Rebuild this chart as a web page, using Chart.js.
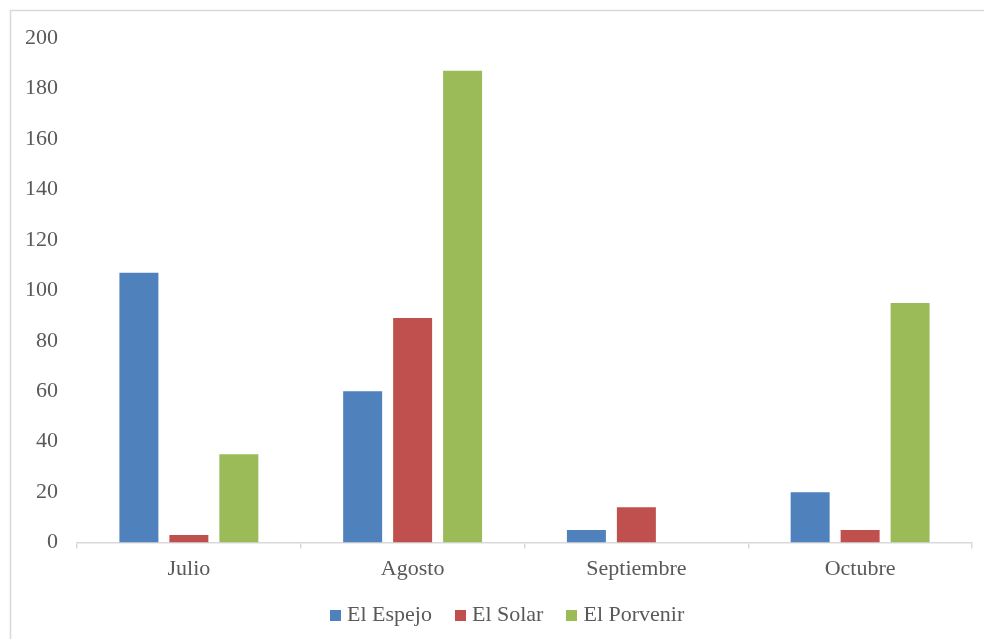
<!DOCTYPE html>
<html>
<head>
<meta charset="utf-8">
<script src="https://cdn.jsdelivr.net/npm/chart.js@4"></script>
<style>
html,body{margin:0;padding:0;background:#fff;overflow:hidden;}
#wrap{position:relative;width:984px;height:639px;}
#legend{position:absolute;left:330px;top:600px;height:28px;display:flex;align-items:center;
  font-family:'Liberation Serif','Times New Roman',serif;font-size:22px;color:#595959;white-space:nowrap;}
#legend .item{display:flex;align-items:center;margin-right:23px;}
#legend .box{width:11px;height:11px;margin-right:6px;margin-top:2px;}
</style>
</head>
<body>
<div id="wrap"><canvas id="c" width="984" height="639"></canvas><div id="legend"></div></div>
<script>
const categories = ["Julio", "Agosto", "Septiembre", "Octubre"];
const seriesNames = ["El Espejo", "El Solar", "El Porvenir"];
const elEspejo = [107, 60, 5, 20];
const elSolar = [3, 89, 14, 5];
const elPorvenir = [35, 187, 0, 95];
const yTicks = [0, 20, 40, 60, 80, 100, 120, 140, 160, 180, 200];

const colors = ["#4F81BD", "#C0504D", "#9BBB59"];
const font = {family: "'Liberation Serif', 'Times New Roman', serif", size: 22};

const borderPlugin = {
  id: 'frame',
  beforeDraw(chart) {
    const ctx = chart.ctx;
    ctx.save();
    ctx.fillStyle = '#fff';
    ctx.fillRect(0, 0, chart.width, chart.height);
    ctx.strokeStyle = '#d9d9d9';
    ctx.lineWidth = 1.5;
    ctx.beginPath();
    ctx.moveTo(10.5, chart.height + 5);
    ctx.lineTo(10.5, 10.5);
    ctx.lineTo(chart.width + 5, 10.5);
    ctx.stroke();
    ctx.restore();
  }
};

const chart = new Chart(document.getElementById('c'), {
  type: 'bar',
  data: {
    labels: categories,
    datasets: [
      {label: seriesNames[0], data: elEspejo, backgroundColor: colors[0]},
      {label: seriesNames[1], data: elSolar, backgroundColor: colors[1]},
      {label: seriesNames[2], data: elPorvenir, backgroundColor: colors[2]}
    ]
  },
  options: {
    responsive: false,
    animation: false,
    devicePixelRatio: 1,
    categoryPercentage: 0.67,
    barPercentage: 0.78,
    layout: {padding: {left: 0, right: 12, top: 38, bottom: 50}},
    plugins: {
      legend: {display: false},
      tooltip: {enabled: false},
      title: {display: false}
    },
    scales: {
      x: {
        grid: {
          display: true,
          offset: true,
          drawOnChartArea: false,
          drawTicks: true,
          tickLength: 6,
          color: '#d9d9d9',
          lineWidth: 1.5
        },
        border: {display: true, color: '#d9d9d9', width: 1.5},
        ticks: {font: font, color: '#595959', padding: 7}
      },
      y: {
        min: 0,
        max: 200,
        afterBuildTicks(scale) { scale.ticks = yTicks.map(v => ({value: v})); },
        afterFit(scale) { scale.width = 77; },
        grid: {display: false, drawTicks: false},
        border: {display: false},
        ticks: {font: font, color: '#595959', padding: 19, stepSize: 20}
      }
    }
  },
  plugins: [borderPlugin]
});

const legendEl = document.getElementById('legend');
chart.data.datasets.forEach(ds => {
  const item = document.createElement('div');
  item.className = 'item';
  const box = document.createElement('span');
  box.className = 'box';
  box.style.background = ds.backgroundColor;
  const txt = document.createElement('span');
  txt.textContent = ds.label;
  item.appendChild(box);
  item.appendChild(txt);
  legendEl.appendChild(item);
});
</script>
</body>
</html>
